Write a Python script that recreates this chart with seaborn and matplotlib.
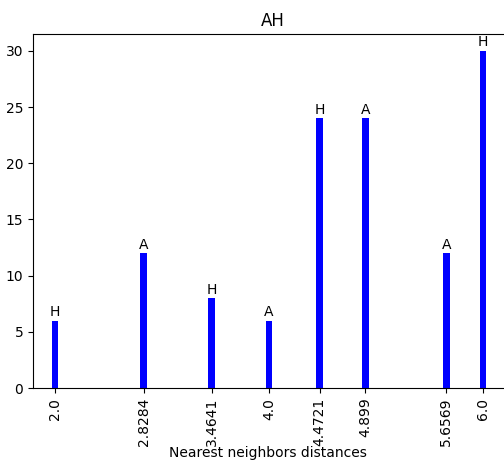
import matplotlib
matplotlib.use("Agg")
import matplotlib.pyplot as plt
import seaborn as sns
import pandas as pd

distances = [2.0, 2.8284, 3.4641, 4.0, 4.4721, 4.899, 5.6569, 6.0]
tick_labels = ["2.0", "2.8284", "3.4641", "4.0", "4.4721", "4.899", "5.6569", "6.0"]
counts = [6, 12, 8, 6, 24, 24, 12, 30]
pair_labels = ["H", "A", "H", "A", "H", "A", "A", "H"]

df = pd.DataFrame({"dist": distances, "count": counts})

fig = plt.figure(figsize=(5.04, 4.62), dpi=100)
ax = fig.add_axes([33 / 504, (462 - 388) / 462, 480 / 504, (388 - 34) / 462])

sns.barplot(data=df, x="dist", y="count", native_scale=True, color="blue",
            saturation=1, width=0.18, ax=ax)

# letters above each bar
for d, c, lab in zip(distances, counts, pair_labels):
    ax.annotate(lab, (d, c), xytext=(0, 1), textcoords="offset points",
                ha="center", va="bottom", fontsize=10)

ax.set_xticks(distances)
ax.set_xticklabels(tick_labels, rotation=90)
ax.set_xlim(1.794, 6.28)
ax.set_ylim(0, 31.5)
ax.set_xlabel("Nearest neighbors distances")
ax.xaxis.set_label_coords(0.49, -0.165)
ax.set_ylabel("")
ax.set_title("AH")

fig.savefig("out.png", dpi=100)
